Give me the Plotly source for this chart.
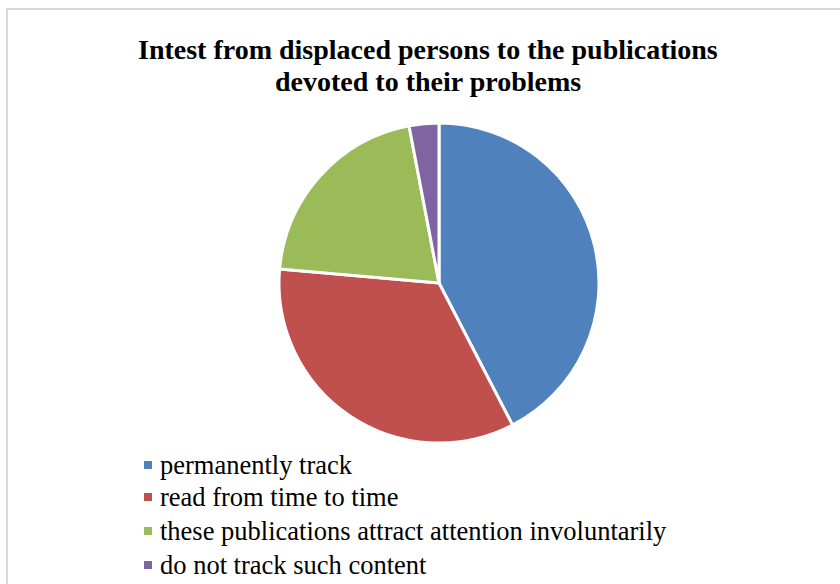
import plotly.graph_objects as go

# Survey answers and their shares (%)
labels = [
    "permanently track",
    "read from time to time",
    "these publications attract attention involuntarily",
    "do not track such content",
]
shares = [42.4, 34.0, 20.6, 3.0]
colors = ["#4F81BD", "#C0504D", "#9BBB59", "#8064A2"]

title_lines = [
    "Intest from displaced persons to the publications",
    "devoted to their problems",
]

W, H = 840, 584
SERIF = "Liberation Serif, Times New Roman, serif"

fig = go.Figure(
    go.Pie(
        labels=labels,
        values=shares,
        sort=False,
        direction="clockwise",
        rotation=0,
        marker=dict(colors=colors, line=dict(color="white", width=3)),
        textinfo="none",
        hoverinfo="label+percent",
        showlegend=False,
        domain=dict(x=[279 / W, 599 / W], y=[(H - 443) / H, (H - 123) / H]),
    )
)

shapes = []
annotations = []

# Two-line bold title, lines placed individually for tighter leading
for line, yc in zip(title_lines, [49, 81]):
    annotations.append(dict(
        text=line, xref="paper", yref="paper",
        x=427.5 / W, y=1 - yc / H, xanchor="center", yanchor="middle",
        showarrow=False,
        font=dict(family=SERIF, size=28, color="black", weight="bold"),
    ))

# Hand-built legend: small square swatch plus label for every slice
row_y = [465, 497, 531, 565]
for lab, col, yc in zip(labels, colors, row_y):
    shapes.append(dict(
        type="rect", xref="paper", yref="paper",
        x0=144 / W, x1=152 / W,
        y0=1 - (yc + 4) / H, y1=1 - (yc - 4) / H,
        fillcolor=col, line=dict(width=0),
    ))
    annotations.append(dict(
        text=lab, xref="paper", yref="paper",
        x=158 / W, y=1 - yc / H, xanchor="left", yanchor="middle",
        showarrow=False, font=dict(family=SERIF, size=26.5, color="black"),
    ))

# Light grey chart-area frame
shapes.append(dict(
    type="rect", xref="paper", yref="paper",
    x0=7 / W, x1=(W + 20) / W, y0=-20 / H, y1=1 - 9 / H,
    line=dict(color="#D9D9D9", width=2), fillcolor="rgba(0,0,0,0)",
    layer="below",
))

fig.update_layout(
    width=W, height=H,
    margin=dict(l=0, r=0, t=0, b=0),
    paper_bgcolor="white",
    shapes=shapes,
    annotations=annotations,
)

fig.write_html("out.html")
